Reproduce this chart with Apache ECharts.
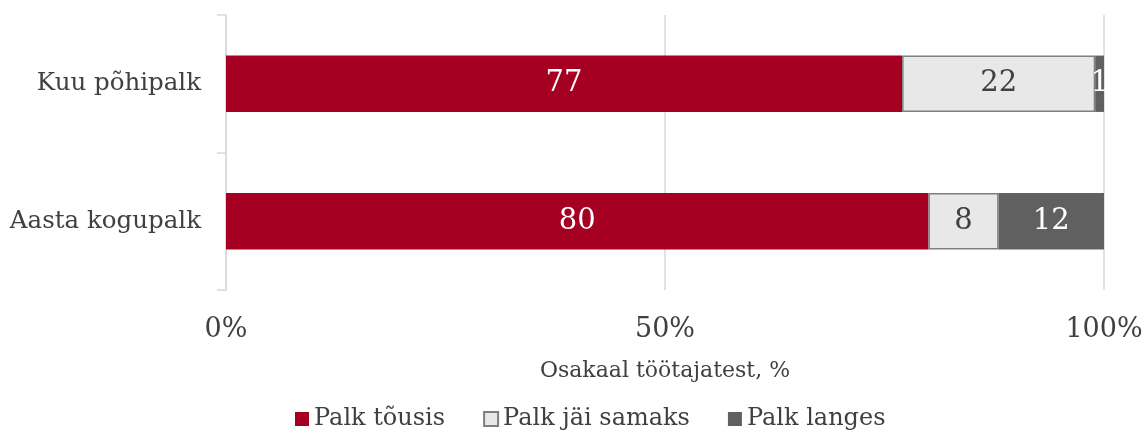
<!DOCTYPE html>
<html>
<head>
<meta charset="utf-8">
<script src="https://cdn.jsdelivr.net/npm/echarts@6/dist/echarts.min.js"></script>
<style>
    html, body { margin: 0; padding: 0; background: #fff; }
    #main { width: 1146px; height: 431px; }
</style>
</head>
<body>
<div id="main"></div>
<script>
    // andmed
    var categories = ['Aasta kogupalk', 'Kuu põhipalk'];
    var seriesNames = ['Palk tõusis', 'Palk jäi samaks', 'Palk langes'];
    var tousis = [80, 77];
    var samaks = [8, 22];
    var langes = [12, 1];
    var tickLabels = ['0%', '50%', '100%'];

    var font = '"DejaVu Serif", Georgia, serif';

    var myChart = echarts.init(document.getElementById('main'));

    function mkLabel(color) {
        return {
            show: true,
            position: 'inside',
            color: color,
            fontFamily: font,
            fontSize: 29
        };
    }

    var option = {
        backgroundColor: '#fff',
        animation: false,
        textStyle: { fontFamily: font },
        legend: {
            top: 402,
            left: 290,
            icon: 'rect',
            itemWidth: 14,
            itemHeight: 14,
            itemGap: 38,
            textStyle: { fontFamily: font, fontSize: 24, color: '#404040' },
            data: seriesNames
        },
        grid: {
            left: 226,
            right: 42,
            top: 15,
            bottom: 141
        },
        xAxis: {
            type: 'value',
            min: 0,
            max: 100,
            interval: 50,
            name: 'Osakaal töötajatest, %',
            nameLocation: 'middle',
            nameGap: 70,
            nameTextStyle: { fontFamily: font, fontSize: 22, color: '#404040' },
            axisLine: { show: false },
            axisTick: { show: false },
            axisLabel: {
                margin: 26,
                fontFamily: font,
                fontSize: 27,
                color: '#404040',
                formatter: function (v) { return tickLabels[v / 50]; }
            },
            splitLine: { show: true, lineStyle: { color: '#d9d9d9', width: 1.5 } }
        },
        yAxis: {
            type: 'category',
            data: categories,
            axisLine: { show: true, lineStyle: { color: '#d9d9d9', width: 1.5 } },
            axisTick: { show: true, length: 9, lineStyle: { color: '#d9d9d9', width: 1.5 } },
            axisLabel: { margin: 25, fontFamily: font, fontSize: 24.5, color: '#404040' }
        },
        series: [
            {
                name: seriesNames[0],
                type: 'bar',
                stack: 'kokku',
                barWidth: '41%',
                itemStyle: { color: '#a50021' },
                label: mkLabel('#ffffff'),
                data: tousis
            },
            {
                name: seriesNames[1],
                type: 'bar',
                stack: 'kokku',
                itemStyle: { color: '#e8e8e8', borderColor: '#7f7f7f', borderWidth: 1.5 },
                label: mkLabel('#404040'),
                data: samaks
            },
            {
                name: seriesNames[2],
                type: 'bar',
                stack: 'kokku',
                itemStyle: { color: '#606060' },
                label: mkLabel('#ffffff'),
                data: langes
            }
        ]
    };

    myChart.setOption(option);
</script>
</body>
</html>
